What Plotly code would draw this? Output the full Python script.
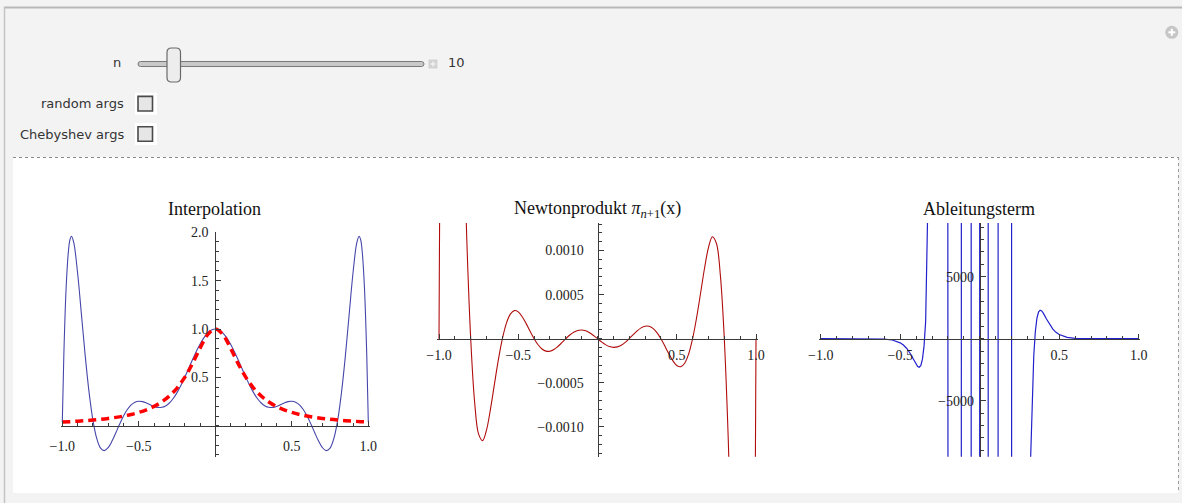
import plotly.graph_objects as go

# ---------------- data ----------------
interp_x = [-1.0, -0.99, -0.975, -0.96, -0.95, -0.94, -0.925, -0.9, -0.875, -0.85, -0.825, -0.8,
            -0.775, -0.75, -0.725, -0.7, -0.675, -0.65, -0.625, -0.6, -0.575, -0.55, -0.525, -0.5,
            -0.475, -0.45, -0.425, -0.4, -0.375, -0.35, -0.325, -0.3, -0.275, -0.25, -0.225, -0.2,
            -0.175, -0.15, -0.125, -0.1, -0.075, -0.05, -0.025, 0.0,
            0.025, 0.05, 0.075, 0.1, 0.125, 0.15, 0.175, 0.2, 0.225, 0.25, 0.275, 0.3, 0.325, 0.35,
            0.375, 0.4, 0.425, 0.45, 0.475, 0.5, 0.525, 0.55, 0.575, 0.6, 0.625, 0.65, 0.675, 0.7,
            0.725, 0.75, 0.775, 0.8, 0.825, 0.85, 0.875, 0.9, 0.925, 0.94, 0.95, 0.96, 0.975, 0.99, 1.0]
interp_y = [0.0385, 0.7261, 1.4232, 1.8044, 1.9236, 1.9590, 1.8924, 1.5787, 1.1517, 0.7195, 0.3451, 0.0588,
            -0.1312, -0.2315, -0.2569, -0.2262, -0.1588, -0.0726, 0.0175, 0.1000, 0.1674, 0.2156, 0.2438, 0.2538,
            0.2492, 0.2350, 0.2167, 0.2000, 0.1899, 0.1906, 0.2052, 0.2353, 0.2815, 0.3426, 0.4166, 0.5000,
            0.5890, 0.6790, 0.7653, 0.8434, 0.9090, 0.9586, 0.9895, 1.0000,
            0.9895, 0.9586, 0.9090, 0.8434, 0.7653, 0.6790, 0.5890, 0.5000, 0.4166, 0.3426, 0.2815, 0.2353, 0.2052, 0.1906,
            0.1899, 0.2000, 0.2167, 0.2350, 0.2492, 0.2538, 0.2438, 0.2156, 0.1674, 0.1000, 0.0175, -0.0726, -0.1588, -0.2262,
            -0.2569, -0.2315, -0.1312, 0.0588, 0.3451, 0.7195, 1.1517, 1.5787, 1.8924, 1.9590, 1.9236, 1.8044, 1.4232, 0.7261, 0.0385]

runge_x = [-1.0, -0.95, -0.9, -0.85, -0.8, -0.75, -0.7, -0.65, -0.6, -0.55, -0.5, -0.45, -0.4, -0.35,
           -0.3, -0.25, -0.2, -0.15, -0.1, -0.05, 0.0, 0.05, 0.1, 0.15, 0.2, 0.25, 0.3, 0.35, 0.4,
           0.45, 0.5, 0.55, 0.6, 0.65, 0.7, 0.75, 0.8, 0.85, 0.9, 0.95, 1.0]
runge_y = [0.0385, 0.0424, 0.0471, 0.0525, 0.0588, 0.0664, 0.0755, 0.0865, 0.1, 0.1168, 0.1379, 0.1649,
           0.2, 0.2462, 0.3077, 0.3902, 0.5, 0.64, 0.8, 0.9412, 1.0, 0.9412, 0.8, 0.64, 0.5, 0.3902,
           0.3077, 0.2462, 0.2, 0.1649, 0.1379, 0.1168, 0.1, 0.0865, 0.0755, 0.0664, 0.0588, 0.0525,
           0.0471, 0.0424, 0.0385]

newton_x = [-1.0, -0.998, -0.995, -0.99, -0.975, -0.95, -0.925, -0.9, -0.875, -0.85, -0.825, -0.8,
            -0.775, -0.75, -0.725, -0.7, -0.675, -0.65, -0.625, -0.6, -0.575, -0.55, -0.525, -0.5,
            -0.475, -0.45, -0.425, -0.4, -0.375, -0.35, -0.325, -0.3, -0.275, -0.25, -0.225, -0.2,
            -0.175, -0.15, -0.125, -0.1, -0.075, -0.05, -0.025, 0.0,
            0.025, 0.05, 0.075, 0.1, 0.125, 0.15, 0.175, 0.2, 0.225, 0.25, 0.275, 0.3, 0.325, 0.35,
            0.375, 0.4, 0.425, 0.45, 0.475, 0.5, 0.525, 0.55, 0.575, 0.6, 0.625, 0.65, 0.675, 0.7,
            0.725, 0.75, 0.775, 0.8, 0.825, 0.85, 0.875, 0.9, 0.925, 0.95, 0.975, 0.99, 0.995, 0.998, 1.0]
newton_y = [0.0, 7.217e-4, 1.7259e-3, 3.2033e-3, 6.3587e-3, 8.4472e-3, 8.0975e-3, 6.547e-3, 4.5924e-3, 2.7081e-3, 1.1447e-3, 0.0,
            -7.244e-4, -1.0830e-3, -1.1568e-3, -1.0338e-3, -7.960e-4, -5.124e-4, -2.352e-4, 0.0, 1.735e-4, 2.785e-4, 3.185e-4, 3.041e-4,
            2.495e-4, 1.708e-4, 8.32e-5, 0.0, -6.88e-5, -1.168e-4, -1.410e-4, -1.419e-4, -1.226e-4, -8.83e-5, -4.53e-5, 0.0,
            4.13e-5, 7.35e-5, 9.31e-5, 9.82e-5, 8.90e-5, 6.71e-5, 3.60e-5, 0.0,
            -3.60e-5, -6.71e-5, -8.90e-5, -9.82e-5, -9.31e-5, -7.35e-5, -4.13e-5, 0.0, 4.53e-5, 8.83e-5, 1.226e-4, 1.419e-4, 1.410e-4, 1.168e-4,
            6.88e-5, 0.0, -8.32e-5, -1.708e-4, -2.495e-4, -3.041e-4, -3.185e-4, -2.785e-4, -1.735e-4, 0.0, 2.352e-4, 5.124e-4, 7.960e-4, 1.0338e-3,
            1.1568e-3, 1.0830e-3, 7.244e-4, 0.0, -1.1447e-3, -2.7081e-3, -4.5924e-3, -6.547e-3, -8.0975e-3, -8.4472e-3, -6.3587e-3, -3.2033e-3, -1.7259e-3, -7.217e-4, 0.0]

deriv_x = [-1.0, -0.9, -0.8, -0.7, -0.6, -0.55, -0.5, -0.48, -0.46, -0.44, -0.42, -0.4, -0.39, -0.38,
           -0.37, -0.36, -0.35, -0.34, -0.33, -0.32, -0.31, -0.3, -0.25, -0.201, -0.2, -0.199, -0.157,
           -0.1165, -0.1155, -0.1145, -0.085, -0.0546, -0.0536, -0.0526, -0.027, -0.001, 0.0,
           0.001, 0.027, 0.0526, 0.0536, 0.0546, 0.085, 0.1145, 0.1155, 0.1165, 0.157, 0.199, 0.2,
           0.201, 0.25, 0.3, 0.31, 0.32, 0.33, 0.34, 0.35, 0.36, 0.37, 0.38, 0.39, 0.4, 0.42, 0.44,
           0.46, 0.48, 0.5, 0.55, 0.6, 0.7, 0.8, 0.9, 1.0]
deriv_y = [0, 0, 0, -2, -32, -107, -333, -511, -771, -1130, -1585, -2059, -2237, -2301,
           -2154, -1653, -580, 1374, 4628, 9782, 17570, 28900, 167200, 22890, 0, -22890, -2.72e6,
           -3.92e5, 0, 3.92e5, 1.79e7, 1.81e6, 0, -1.81e6, -4.0e7, -2.93e6, 0,
           2.93e6, 4.0e7, 1.81e6, 0, -1.81e6, -1.79e7, -3.92e5, 0, 3.92e5, 2.72e6, 22890, 0,
           -22890, -167200, -28900, -17570, -9782, -4628, -1374, 580, 1653, 2154, 2301, 2237, 2059, 1585, 1130,
           771, 511, 333, 107, 32, 2, 0, 0, 0]

titles = ["Interpolation", "Newtonprodukt <i>π</i><sub><i>n</i>+1</sub>(x)", "Ableitungsterm"]
x_tickvals = [-1.0, -0.5, 0.5, 1.0]
x_ticktext = ["−1.0", "−0.5", "0.5", "1.0"]
y1_tickvals = [0.5, 1.0, 1.5, 2.0]
y1_ticktext = ["0.5", "1.0", "1.5", "2.0"]
y2_tickvals = [-0.001, -0.0005, 0.0005, 0.001]
y2_ticktext = ["−0.0010", "−0.0005", "0.0005", "0.0010"]
y3_tickvals = [-5000, 5000]
y3_ticktext = ["−5000", "5000"]

# ---------------- layout helpers ----------------
W, H = 1182, 503
def px(x):
    return x / W
def py(y):
    return 1 - y / H

SERIF = "Liberation Serif, Times New Roman, serif"
SANS = "DejaVu Sans, Arial, sans-serif"
AXC = "#3a3a3a"

fig = go.Figure()
fig.add_trace(go.Scatter(x=interp_x, y=interp_y, mode="lines", xaxis="x", yaxis="y",
                         line=dict(color="#4646aa", width=1.1, shape="spline", smoothing=1.0)))
fig.add_trace(go.Scatter(x=runge_x, y=runge_y, mode="lines", xaxis="x", yaxis="y",
                         line=dict(color="#ff0000", width=3.5, dash="8px,5px", shape="spline", smoothing=1.0)))
fig.add_trace(go.Scatter(x=newton_x, y=newton_y, mode="lines", xaxis="x2", yaxis="y2",
                         line=dict(color="#b00c0c", width=1.1, shape="spline", smoothing=1.0)))
fig.add_trace(go.Scatter(x=deriv_x, y=deriv_y, mode="lines", xaxis="x3", yaxis="y3",
                         line=dict(color="#2020cc", width=1.2, shape="linear")))

geo = [
    dict(xl=62.3, xr=368.3, top=232.3, bot=456.7, yr=[-0.32, 2.0], x0=215.3, y0=425.7,
         tv=y1_tickvals, tt=y1_ticktext, mdt=0.1, stand=7, ystand=4),
    dict(xl=439.0, xr=756.0, top=223.0, bot=456.7, yr=[-0.001339, 0.0013126], x0=597.5, y0=338.7,
         tv=y2_tickvals, tt=y2_ticktext, mdt=0.0001, stand=3, ystand=11),
    dict(xl=820.7, xr=1138.7, top=223.0, bot=456.7, yr=[-9516, 9330], x0=979.7, y0=338.7,
         tv=y3_tickvals, tt=y3_ticktext, mdt=1000, stand=3, ystand=3),
]

layout_axes = {}
for i, g in enumerate(geo):
    s = "" if i == 0 else str(i + 1)
    unit = (g["xr"] - g["xl"]) / 2.0
    ext = 0.01
    layout_axes["xaxis" + s] = dict(
        domain=[px(g["xl"] - ext * unit), px(g["xr"] + ext * unit)],
        range=[-1.0 - ext, 1.0 + ext],
        anchor="free", position=py(g["y0"]), automargin=False,
        showline=True, linecolor=AXC, linewidth=1,
        ticks="inside", ticklen=5, tickwidth=1, tickcolor=AXC,
        tickmode="array", tickvals=x_tickvals, ticktext=x_ticktext,
        tickfont=dict(family=SERIF, size=14, color="#222"),
        ticklabelstandoff=g["stand"],
        minor=dict(ticks="inside", ticklen=3, tickwidth=1, tickcolor=AXC, tickmode="linear", tick0=0, dtick=0.1),
        showgrid=False, zeroline=False, fixedrange=True,
    )
    layout_axes["yaxis" + s] = dict(
        domain=[py(g["bot"]), py(g["top"])],
        range=g["yr"],
        anchor="free", position=px(g["x0"]), automargin=False,
        showline=True, linecolor=AXC, linewidth=1,
        ticks="inside", ticklen=5, tickwidth=1, tickcolor=AXC,
        tickmode="array", tickvals=g["tv"], ticktext=g["tt"],
        tickfont=dict(family=SERIF, size=14, color="#222"),
        ticklabelstandoff=g["ystand"],
        minor=dict(ticks="inside", ticklen=3, tickwidth=1, tickcolor=AXC, tickmode="linear", tick0=0, dtick=g["mdt"]),
        showgrid=False, zeroline=False, fixedrange=True,
    )

def rrect(x0, y0, x1, y1, r):
    pts = [
        ("M", x0 + r, y0), ("L", x1 - r, y0), ("Q", x1, y0, x1, y0 + r), ("L", x1, y1 - r),
        ("Q", x1, y1, x1 - r, y1), ("L", x0 + r, y1), ("Q", x0, y1, x0, y1 - r), ("L", x0, y0 + r),
        ("Q", x0, y0, x0 + r, y0),
    ]
    out = []
    for p in pts:
        if p[0] == "Q":
            out.append("Q %.5f,%.5f %.5f,%.5f" % (px(p[1]), py(p[2]), px(p[3]), py(p[4])))
        else:
            out.append("%s %.5f,%.5f" % (p[0], px(p[1]), py(p[2])))
    return " ".join(out) + " Z"

shapes = []
shapes.append(dict(type="rect", xref="paper", yref="paper", x0=px(13), x1=px(1178), y0=py(493), y1=py(157),
                   fillcolor="white", line=dict(width=0), layer="below"))
shapes.append(dict(type="line", xref="paper", yref="paper", x0=px(13), x1=px(1178), y0=py(157.5), y1=py(157.5),
                   line=dict(color="#8a8a8a", width=1, dash="dot"), layer="below"))
shapes.append(dict(type="line", xref="paper", yref="paper", x0=px(1178.5), x1=px(1178.5), y0=py(157), y1=py(493),
                   line=dict(color="#9a9a9a", width=1, dash="dot"), layer="below"))
shapes.append(dict(type="line", xref="paper", yref="paper", x0=px(4), x1=px(1182), y0=py(7.5), y1=py(7.5),
                   line=dict(color="#b8b8b8", width=2), layer="below"))
shapes.append(dict(type="line", xref="paper", yref="paper", x0=px(4.5), x1=px(4.5), y0=py(7), y1=py(503),
                   line=dict(color="#c4c4c4", width=1.5), layer="below"))
shapes.append(dict(type="path", xref="paper", yref="paper", path=rrect(138, 61.5, 424, 66.5, 2.5),
                   fillcolor="#c9c9c9", line=dict(color="#7a7a7a", width=1), layer="below"))
shapes.append(dict(type="path", xref="paper", yref="paper", path=rrect(167, 48, 180.5, 82, 4.5),
                   fillcolor="#ededed", line=dict(color="#6a6a6a", width=1.2), layer="above"))
shapes.append(dict(type="rect", xref="paper", yref="paper", x0=px(428.5), x1=px(437.5), y0=py(68.5), y1=py(59.5),
                   fillcolor="#d2d2d2", line=dict(width=0), layer="above"))
shapes.append(dict(type="line", xref="paper", yref="paper", x0=px(430.5), x1=px(435.5), y0=py(64), y1=py(64),
                   line=dict(color="#f0f0f0", width=1.5), layer="above"))
shapes.append(dict(type="line", xref="paper", yref="paper", x0=px(433), x1=px(433), y0=py(61.5), y1=py(66.5),
                   line=dict(color="#f0f0f0", width=1.5), layer="above"))
for cy in (103.7, 134.0):
    shapes.append(dict(type="rect", xref="paper", yref="paper", x0=px(135), x1=px(157), y0=py(cy + 11), y1=py(cy - 11),
                       fillcolor="white", line=dict(width=0), layer="above"))
    shapes.append(dict(type="rect", xref="paper", yref="paper", x0=px(138), x1=px(152.5), y0=py(cy + 7.3), y1=py(cy - 7.3),
                       fillcolor="#e6e6e6", line=dict(color="#4a4a4a", width=1.6), layer="above"))
shapes.append(dict(type="circle", xref="paper", yref="paper", x0=px(1165.3), x1=px(1178.3), y0=py(38.8), y1=py(25.8),
                   fillcolor="#c6c6c6", line=dict(width=0), layer="above"))
shapes.append(dict(type="line", xref="paper", yref="paper", x0=px(1168.3), x1=px(1175.3), y0=py(32.3), y1=py(32.3),
                   line=dict(color="white", width=2), layer="above"))
shapes.append(dict(type="line", xref="paper", yref="paper", x0=px(1171.8), x1=px(1171.8), y0=py(28.8), y1=py(35.8),
                   line=dict(color="white", width=2), layer="above"))

annotations = []
title_pos = [(214.5, 209), (597.5, 209), (979.0, 209)]
for t, (tx, ty) in zip(titles, title_pos):
    annotations.append(dict(text=t, xref="paper", yref="paper", x=px(tx), y=py(ty), xanchor="center", yanchor="middle",
                            showarrow=False, font=dict(family=SERIF, size=18, color="#111")))
ui_texts = [("n", 123, 63, "right"), ("10", 445.5, 63, "left"),
            ("random args", 126, 103.7, "right"), ("Chebyshev args", 126, 134, "right")]
for t, tx, ty, anc in ui_texts:
    annotations.append(dict(text=t, xref="paper", yref="paper", x=px(tx), y=py(ty), xanchor=anc, yanchor="middle",
                            showarrow=False, font=dict(family=SANS, size=13, color="#333")))

fig.update_layout(
    width=W, height=H, margin=dict(l=0, r=0, t=0, b=0, pad=0, autoexpand=False),
    paper_bgcolor="#f3f3f3", plot_bgcolor="rgba(0,0,0,0)",
    showlegend=False, shapes=shapes, annotations=annotations,
    **layout_axes,
)

fig.write_html("out.html", config={"displayModeBar": False},
               post_script="document.body.style.margin='0px';document.body.style.overflow='hidden';")
